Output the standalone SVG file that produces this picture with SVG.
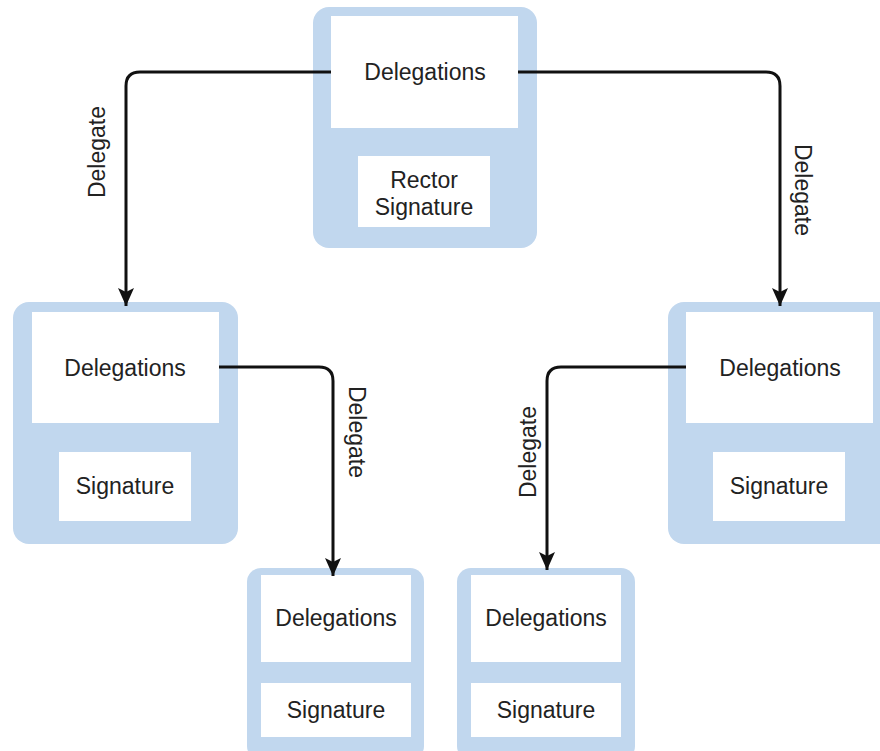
<svg xmlns="http://www.w3.org/2000/svg" width="880" height="751" viewBox="0 0 880 751">
<defs>
<style>
.outer{fill:#c1d7ee}
.inner{fill:#ffffff}
.t{font-family:"Liberation Sans",Arial,sans-serif;font-size:23px;fill:#222;text-anchor:middle;dominant-baseline:central}
.c{fill:none;stroke:#111;stroke-width:3}
</style>
<marker id="ah" markerUnits="userSpaceOnUse" markerWidth="20" markerHeight="18" viewBox="0 0 20 18" refX="18" refY="9" orient="auto">
<path d="M0,1 L18,9 L0,17 L4,9 Z" fill="#111"/>
</marker>
</defs>
<rect width="880" height="751" fill="#ffffff"/>

<g id="top">
<rect class="outer" x="313" y="7" width="224" height="241" rx="16"/>
<rect class="inner" x="331" y="16" width="187" height="112"/>
<rect class="inner" x="358" y="156" width="132" height="71"/>
<text class="t" x="425" y="72">Delegations</text>
<text class="t" x="424" y="180">Rector</text>
<text class="t" x="424" y="207">Signature</text>
</g>

<g id="midLeft">
<rect class="outer" x="13" y="302" width="225" height="242" rx="16"/>
<rect class="inner" x="32" y="312" width="187" height="111"/>
<rect class="inner" x="59" y="452" width="132" height="69"/>
<text class="t" x="125" y="368">Delegations</text>
<text class="t" x="125" y="486">Signature</text>
</g>

<g id="midRight">
<rect class="outer" x="668" y="302" width="226" height="242" rx="16"/>
<rect class="inner" x="686" y="312" width="187" height="111"/>
<rect class="inner" x="713" y="452" width="132" height="69"/>
<text class="t" x="780" y="368">Delegations</text>
<text class="t" x="779" y="486">Signature</text>
</g>

<g id="botLeft">
<rect class="outer" x="247" y="568" width="177" height="192" rx="14"/>
<rect class="inner" x="261" y="575" width="150" height="87"/>
<rect class="inner" x="261" y="683" width="150" height="54"/>
<text class="t" x="336" y="618">Delegations</text>
<text class="t" x="336" y="710">Signature</text>
</g>

<g id="botRight">
<rect class="outer" x="457" y="568" width="178" height="192" rx="14"/>
<rect class="inner" x="471" y="575" width="150" height="87"/>
<rect class="inner" x="471" y="683" width="150" height="54"/>
<text class="t" x="546" y="618">Delegations</text>
<text class="t" x="546" y="710">Signature</text>
</g>

<g id="connectors">
<path class="c" d="M331,72 H140 Q126,72 126,86 V306" marker-end="url(#ah)"/>
<path class="c" d="M518,72 H766 Q780,72 780,86 V306" marker-end="url(#ah)"/>
<path class="c" d="M219,367 H319 Q333,367 333,381 V576" marker-end="url(#ah)"/>
<path class="c" d="M686,367 H561 Q547,367 547,381 V570" marker-end="url(#ah)"/>
<text class="t" transform="translate(97,152) rotate(-90)">Delegate</text>
<text class="t" transform="translate(803,190) rotate(90)">Delegate</text>
<text class="t" transform="translate(357,432) rotate(90)">Delegate</text>
<text class="t" transform="translate(528,452) rotate(-90)">Delegate</text>
</g>
</svg>
